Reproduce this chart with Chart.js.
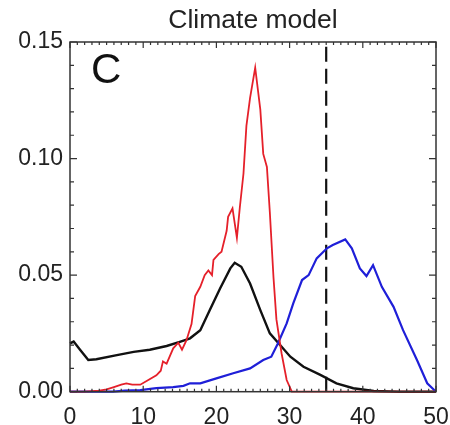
<!DOCTYPE html>
<html>
<head>
<meta charset="utf-8">
<script src="https://cdn.jsdelivr.net/npm/chart.js@4/dist/chart.umd.min.js"></script>
<style>
  html, body { margin: 0; padding: 0; background: #fff; }
  #wrap { width: 450px; height: 425px; }
</style>
</head>
<body>
<div id="wrap"><canvas id="cv"></canvas></div>
<script>
// distribution curves (x in units, y = probability density)
const redX = [0, 2, 4, 5, 6, 7, 7.7, 8.5, 9.6, 10.7, 11.8, 12.4, 12.7, 13.2, 14.1, 14.8, 15.3, 15.9, 16.6, 17.1,
  17.8, 18.4, 18.9, 19.4, 19.6, 20.3, 20.7, 21.4, 21.6, 22.2, 22.8, 23.2, 23.7, 24.1, 24.6, 25.3, 26.0, 26.4,
  26.9, 27.3, 27.8, 28.2, 28.9, 29.6, 30.3, 35, 40, 45, 50];
const redY = [0, 0, 0.0005, 0.001, 0.002, 0.003, 0.0036, 0.003, 0.003, 0.005, 0.007, 0.009, 0.013, 0.012, 0.0186,
  0.021, 0.018, 0.022, 0.029, 0.041, 0.045, 0.05, 0.052, 0.05, 0.0565, 0.059, 0.06, 0.069, 0.075, 0.0786, 0.066,
  0.079, 0.0936, 0.114, 0.126, 0.139, 0.121, 0.102, 0.0964, 0.077, 0.049, 0.031, 0.0165, 0.005, 0, 0, 0, 0, 0];

const blackX = [0, 0.5, 1.4, 2.5, 3.6, 6.4, 8.7, 10.9, 13.2, 15, 16.4, 17.8, 19.1, 20.5, 21.9, 22.5, 23.4, 24.6,
  26, 27.3, 28.7, 30.1, 31.9, 34.2, 36.4, 38.7, 41.5, 45, 50];
const blackY = [0.0207, 0.0215, 0.0179, 0.0136, 0.0139, 0.0157, 0.0171, 0.018, 0.0196, 0.0214, 0.0229, 0.0264,
  0.035, 0.0443, 0.0529, 0.0553, 0.0536, 0.0464, 0.035, 0.025, 0.02, 0.015, 0.0107, 0.0072, 0.0036, 0.0015,
  0.0003, 0, 0];

const blueX = [0, 5, 5.9, 7.5, 9.6, 11.8, 14.1, 15.5, 16.4, 17.8, 20, 22.3, 24.6, 26.4, 27.5, 28.4, 29.6, 30.5,
  31.7, 32.6, 33.7, 35.1, 35.9, 37.6, 38.5, 39.6, 40.5, 41.4, 42.6, 44.2, 45.5, 47.4, 48.8, 50];
const blueY = [0, 0, 0, 0.0005, 0.0007, 0.0015, 0.002, 0.0025, 0.0036, 0.0036, 0.0057, 0.0079, 0.01, 0.0136,
  0.015, 0.0207, 0.0293, 0.0379, 0.0479, 0.05, 0.0572, 0.0615, 0.0629, 0.0653, 0.0615, 0.0529, 0.0496, 0.0543,
  0.045, 0.0364, 0.0264, 0.0136, 0.0036, 0];

// threshold marker
const thresholdX = 35;

const xTicks = [0, 10, 20, 30, 40, 50];
const yTicks = [0, 0.05, 0.10, 0.15];

const pts = (xs, ys) => xs.map((x, i) => ({ x: x, y: ys[i] }));

// box frame with inward ticks on all four sides
const framePlugin = {
  id: 'frame',
  afterDatasetsDraw(chart) {
    const { ctx, chartArea: a, scales: { x, y } } = chart;
    ctx.save();
    ctx.strokeStyle = '#333';
    ctx.lineWidth = 1.5;
    ctx.strokeRect(a.left, a.top, a.right - a.left, a.bottom - a.top);
    ctx.lineWidth = 1.2;
    ctx.beginPath();
    for (let v = 0; v <= 50; v++) {
      const px = x.getPixelForValue(v);
      const len = v % 10 === 0 ? 6 : 3;
      ctx.moveTo(px, a.bottom); ctx.lineTo(px, a.bottom - len);
      ctx.moveTo(px, a.top); ctx.lineTo(px, a.top + len);
    }
    for (let k = 0; k <= 15; k++) {
      const py = y.getPixelForValue(k / 100);
      const len = k % 5 === 0 ? 7 : 4;
      ctx.moveTo(a.left, py); ctx.lineTo(a.left + len, py);
      ctx.moveTo(a.right, py); ctx.lineTo(a.right - len, py);
    }
    ctx.stroke();
    // panel letter
    ctx.fillStyle = '#111';
    ctx.font = '300 42px "Liberation Sans", Arial, sans-serif';
    ctx.textBaseline = 'top';
    ctx.textAlign = 'left';
    ctx.fillText('C', a.left + 21, a.top + 8);
    ctx.restore();
  }
};

new Chart(document.getElementById('cv'), {
  type: 'line',
  data: {
    datasets: [
      { data: pts(redX, redY), borderColor: '#e5202a', borderWidth: 1.8 },
      { data: pts(blueX, blueY), borderColor: '#1f1fd8', borderWidth: 2.2 },
      { data: pts(blackX, blackY), borderColor: '#111', borderWidth: 2.4 },
      { data: [{ x: thresholdX, y: 0 }, { x: thresholdX, y: 0.15 }], borderColor: '#111',
        borderWidth: 2.2, borderDash: [15, 7] }
    ]
  },
  options: {
    responsive: true,
    maintainAspectRatio: false,
    animation: false,
    layout: { padding: { left: 0, right: 14, top: 0, bottom: 0 } },
    elements: { point: { radius: 0 }, line: { tension: 0 } },
    datasets: { line: { clip: 3 } },
    plugins: {
      legend: { display: false },
      tooltip: { enabled: false },
      title: {
        display: true,
        fullSize: false,
        text: 'Climate model',
        color: '#222',
        font: { family: '"Liberation Sans", Arial, sans-serif', size: 26.5, weight: 'normal' },
        padding: { top: 5, bottom: 5.2 }
      }
    },
    scales: {
      x: {
        type: 'linear', min: 0, max: 50,
        afterBuildTicks: s => { s.ticks = xTicks.map(v => ({ value: v })); },
        afterFit: s => { s.height = 33.3; s.paddingLeft = 0; s.paddingRight = 0; },
        grid: { display: false, drawTicks: false },
        border: { display: false },
        ticks: { color: '#222', padding: 12, maxRotation: 0,
          font: { family: '"Liberation Sans", Arial, sans-serif', size: 23 } }
      },
      y: {
        type: 'linear', min: 0, max: 0.15,
        afterBuildTicks: s => { s.ticks = yTicks.map(v => ({ value: v })); },
        afterFit: s => { s.width = 70; },
        grid: { display: false, drawTicks: false },
        border: { display: false },
        ticks: { color: '#222', padding: 7,
          callback: v => v.toFixed(2),
          font: { family: '"Liberation Sans", Arial, sans-serif', size: 23 } }
      }
    }
  },
  plugins: [framePlugin]
});
</script>
</body>
</html>
